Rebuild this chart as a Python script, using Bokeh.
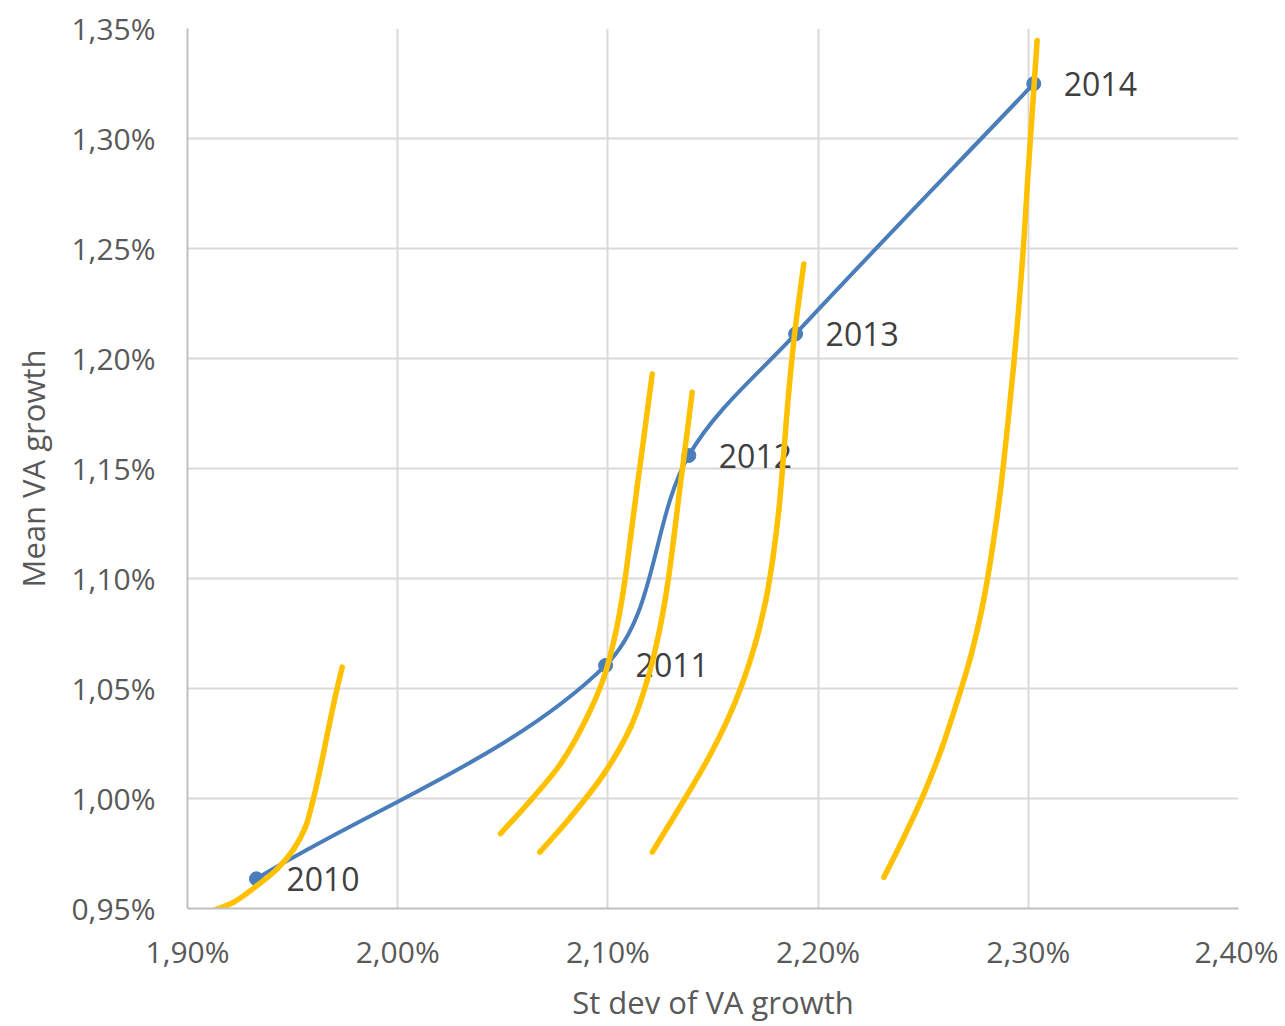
import math
from bokeh.plotting import figure
from bokeh.models import FixedTicker, CustomJSTickFormatter, ColumnDataSource
from bokeh.core.properties import value
from bokeh.embed import file_html
from bokeh.resources import INLINE

# ---- data (values in %) ----
years = ["2010", "2011", "2012", "2013", "2014"]
st_dev = [1.9328, 2.0989, 2.1385, 2.1893, 2.3026]
mean_growth = [0.9635, 1.0605, 1.1559, 1.2112, 1.3249]

# indifference curves
curve1_x = [1.9101, 1.9220, 1.9332, 1.9427, 1.9506, 1.9561, 1.9593, 1.9633, 1.9672, 1.9704, 1.9736]
curve1_y = [0.9483, 0.9529, 0.9605, 0.9680, 0.9771, 0.9870, 0.9976, 1.0142, 1.0324, 1.0468, 1.0597]
curve2_x = [2.0489, 2.0632, 2.0775, 2.0893, 2.0981, 2.1036, 2.1076, 2.1108, 2.1139, 2.1171, 2.1211]
curve2_y = [0.9840, 0.9991, 1.0158, 1.0355, 1.0551, 1.0749, 1.0960, 1.1188, 1.1415, 1.1642, 1.1930]
curve3_x = [2.0676, 2.0822, 2.0981, 2.1108, 2.1187, 2.1242, 2.1282, 2.1314, 2.1345, 2.1374, 2.1401]
curve3_y = [0.9756, 0.9915, 1.0112, 1.0324, 1.0536, 1.0749, 1.0960, 1.1188, 1.1430, 1.1642, 1.1847]
curve4_x = [2.1211, 2.1361, 2.1472, 2.1568, 2.1639, 2.1701, 2.1751, 2.1786, 2.1813, 2.1835,
            2.1861, 2.1892, 2.1932]
curve4_y = [0.9756, 0.9991, 1.0173, 1.0355, 1.0521, 1.0703, 1.0900, 1.1100, 1.1309, 1.1551,
            1.1855, 1.2142, 1.2430]
curve5_x = [2.2313, 2.2408, 2.2503, 2.2590, 2.2663, 2.2725, 2.2781, 2.2815, 2.2851, 2.2877,
            2.2931, 2.2971, 2.3002, 2.3042]
curve5_y = [0.9642, 0.9824, 1.0021, 1.0233, 1.0445, 1.0642, 1.0870, 1.1051, 1.1279, 1.1476,
            1.1976, 1.2430, 1.2885, 1.3445]

x_ticks = [1.90, 2.00, 2.10, 2.20, 2.30, 2.40]
y_ticks = [0.95, 1.00, 1.05, 1.10, 1.15, 1.20, 1.25, 1.30, 1.35]

FONT = "Open Sans"
TXT = "#595959"


def smooth_segments(xs, ys):
    """Chord-length Catmull-Rom smoothing -> cubic bezier segments (smoothed line style)."""
    n = len(xs)
    yk = 1.047  # y pixels per unit relative to x
    d = [math.hypot(xs[i + 1] - xs[i], (ys[i + 1] - ys[i]) * yk) for i in range(n - 1)]
    mx, my = [], []
    for i in range(n):
        if i == 0:
            mx.append((xs[1] - xs[0]) / d[0]); my.append((ys[1] - ys[0]) / d[0])
        elif i == n - 1:
            mx.append((xs[i] - xs[i - 1]) / d[i - 1]); my.append((ys[i] - ys[i - 1]) / d[i - 1])
        else:
            t = d[i - 1] + d[i]
            mx.append((xs[i + 1] - xs[i - 1]) / t); my.append((ys[i + 1] - ys[i - 1]) / t)
    seg = dict(x0=[], y0=[], x1=[], y1=[], cx0=[], cy0=[], cx1=[], cy1=[])
    for i in range(n - 1):
        h = d[i] / 3
        seg["x0"].append(xs[i]); seg["y0"].append(ys[i])
        seg["x1"].append(xs[i + 1]); seg["y1"].append(ys[i + 1])
        seg["cx0"].append(xs[i] + mx[i] * h); seg["cy0"].append(ys[i] + my[i] * h)
        seg["cx1"].append(xs[i + 1] - mx[i + 1] * h); seg["cy1"].append(ys[i + 1] - my[i + 1] * h)
    return ColumnDataSource(seg)


p = figure(frame_width=1051, frame_height=880, output_backend="svg", toolbar_location=None,
           x_range=(1.90, 2.40), y_range=(0.95, 1.35),
           min_border_left=187, min_border_right=40, min_border_top=28, min_border_bottom=10)
p.outline_line_color = None
p.background_fill_color = "white"

# blue smoothed series
blue = "#4a7ebb"
p.bezier(x0="x0", y0="y0", x1="x1", y1="y1", cx0="cx0", cy0="cy0", cx1="cx1", cy1="cy1",
         source=smooth_segments(st_dev, mean_growth), line_color=blue, line_width=4,
         line_cap="round")
p.scatter(st_dev, mean_growth, size=14, color=blue, marker="circle")

# labels
p.text(st_dev, mean_growth, text=years, x_offset=30, text_baseline="middle", text_align="left",
       text_font=value(FONT), text_font_size="32px", text_color="#404040")

# yellow curves
for cx, cy in [(curve1_x, curve1_y), (curve2_x, curve2_y), (curve3_x, curve3_y),
               (curve4_x, curve4_y), (curve5_x, curve5_y)]:
    p.bezier(x0="x0", y0="y0", x1="x1", y1="y1", cx0="cx0", cy0="cy0", cx1="cx1", cy1="cy1",
             source=smooth_segments(cx, cy), line_color="#ffc000", line_width=5.5,
             line_cap="round")

fmt = CustomJSTickFormatter(code="return tick.toFixed(2).replace('.', ',') + '%';")
p.xaxis.ticker = FixedTicker(ticks=x_ticks)
p.yaxis.ticker = FixedTicker(ticks=y_ticks)
p.xaxis.formatter = fmt
p.yaxis.formatter = fmt

for ax in (p.xaxis, p.yaxis):
    ax.axis_line_color = "#bfbfbf"
    ax.axis_line_width = 2
    ax.major_tick_line_color = None
    ax.minor_tick_line_color = None
    ax.major_label_text_font = FONT
    ax.major_label_text_font_size = "30px"
    ax.major_label_text_color = TXT
    ax.axis_label_text_font = FONT
    ax.axis_label_text_font_size = "31px"
    ax.axis_label_text_color = TXT
    ax.axis_label_text_font_style = "normal"

p.xaxis.axis_label = "St dev of VA growth"
p.yaxis.axis_label = "Mean VA growth"
p.xaxis.major_label_standoff = 16
p.yaxis.major_label_standoff = 26
p.xaxis.axis_label_standoff = 6
p.yaxis.axis_label_standoff = 14

p.grid.grid_line_color = "#d9d9d9"
p.grid.grid_line_width = 2

open("out.html", "w").write(file_html(p, INLINE))
